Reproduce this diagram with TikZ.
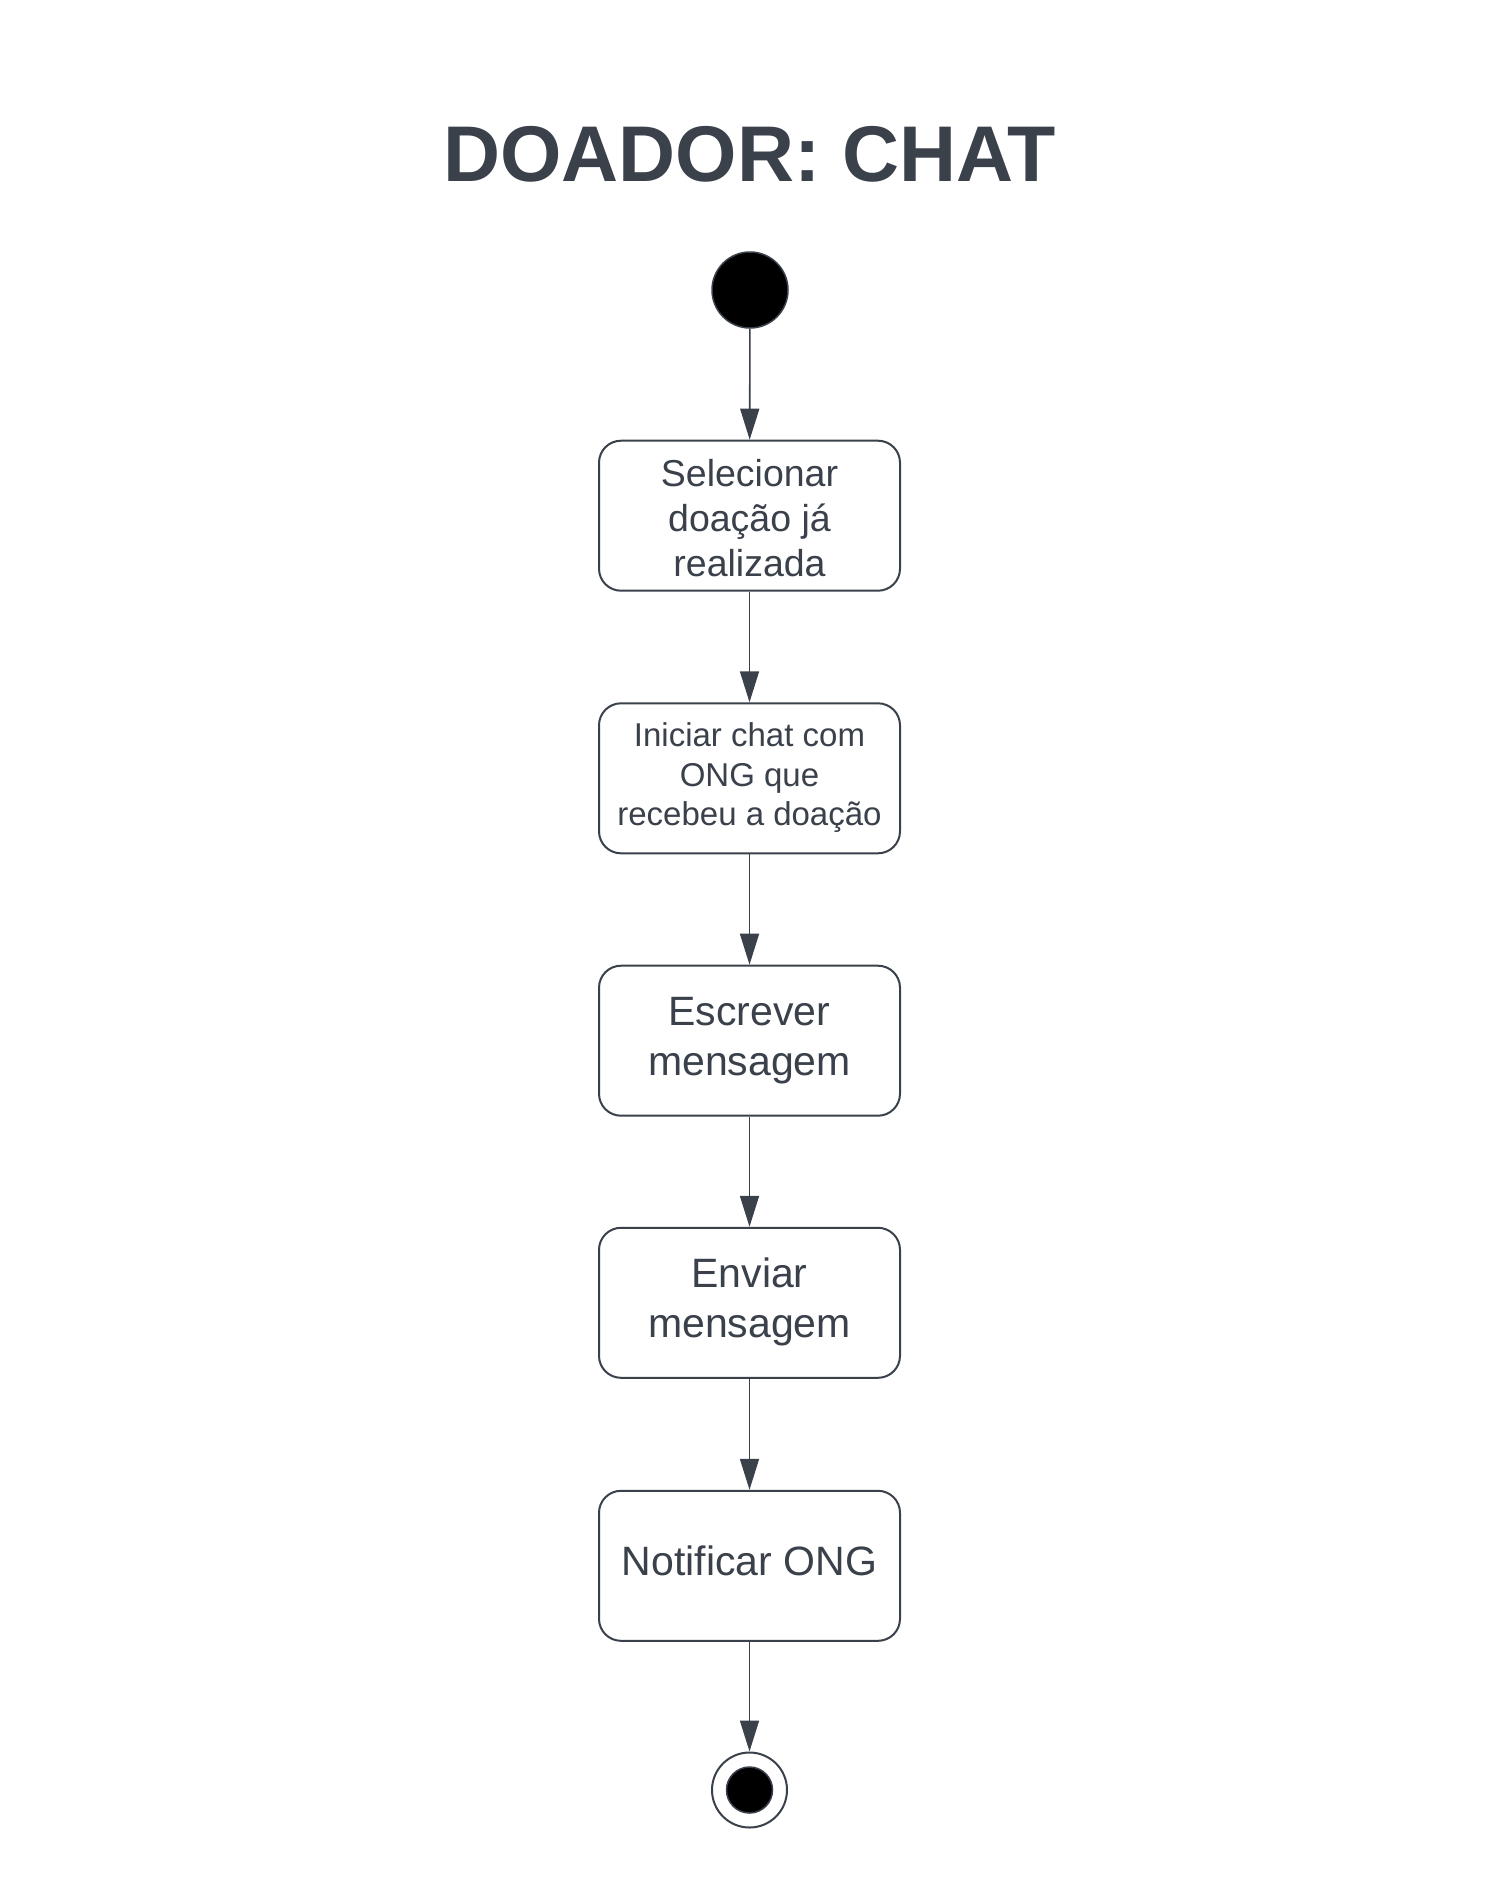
\documentclass[tikz,border=0pt]{standalone}
\usepackage{fontspec}
\setmainfont{Liberation Sans}
\usetikzlibrary{arrows.meta}
\definecolor{ink}{RGB}{58,65,75}
\begin{document}
\begin{tikzpicture}[x=1pt,y=-1pt,
  box/.style={draw=ink, line width=2pt, rounded corners=22pt, minimum width=301pt, minimum height=150pt, inner sep=0pt, align=center, text=ink, fill=white},
  flow/.style={draw=ink, line width=1.6pt, -{Triangle[length=31pt,width=19pt]}},
  startdot/.style={circle, fill=black, draw=ink, line width=1.5pt, inner sep=0pt},
]
\useasboundingbox (0,0) rectangle (1496,1903);
\fill[white] (0,0) rectangle (1496,1903);
\node[text=ink, font=\bfseries\fontsize{79}{95}\selectfont, anchor=base, inner sep=0pt] (title) at (749.5,181) {DOADOR: CHAT};
\node[startdot, minimum size=76pt] (start) at (750,290) {};
\node[box, font=\fontsize{37.5}{45}\selectfont] (b1) at (749.5,515.7) {\rule{0pt}{32pt}Selecionar\\doação já\\realizada};
\node[box, font=\fontsize{33}{39.5}\selectfont] (b2) at (749.5,778.3) {\strut Iniciar chat com\\\strut ONG que\\\strut recebeu a doação};
\node[box, font=\fontsize{41}{50}\selectfont] (b3) at (749.5,1040.7) {\strut Escrever\\\strut mensagem};
\node[box, font=\fontsize{41}{50}\selectfont] (b4) at (749.5,1302.8) {\strut Enviar\\\strut mensagem};
\node[box, font=\fontsize{41}{50}\selectfont] (b5) at (749.5,1565.8) {\strut Notificar ONG};
\node[circle, draw=ink, line width=2pt, fill=white, minimum size=75pt, inner sep=0pt] (end) at (749.5,1790) {};
\node[startdot, minimum size=46pt] (endin) at (end.center) {};
\draw[flow] (start) -- (b1);
\draw[flow] (b1) -- (b2);
\draw[flow] (b2) -- (b3);
\draw[flow] (b3) -- (b4);
\draw[flow] (b4) -- (b5);
\draw[flow] (b5) -- (end);
\end{tikzpicture}
\end{document}
